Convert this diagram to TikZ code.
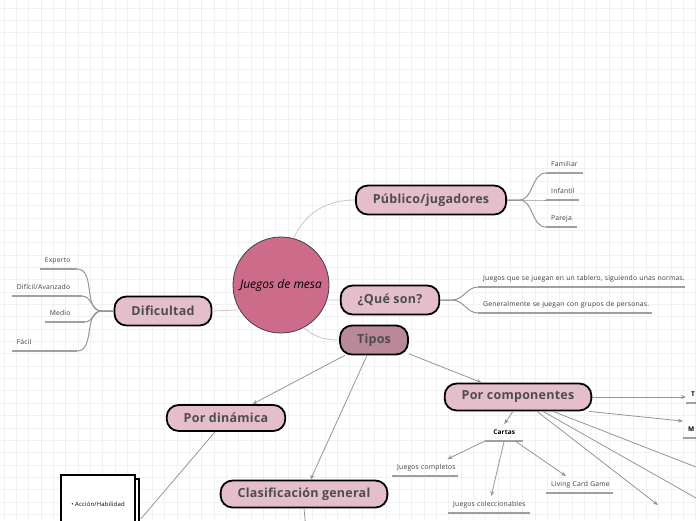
\documentclass[tikz,border=0pt]{standalone}
\usepackage{fontspec}
\setsansfont{Open Sans}
\newfontfamily\pillfont[LetterSpace=2]{Open Sans}
\newfontfamily\leaffont[LetterSpace=2.5]{Open Sans}
\usetikzlibrary{arrows.meta, positioning, shadows}
\definecolor{mapgrid}{RGB}{241,241,241}
\definecolor{rootpink}{RGB}{204,108,138}
\definecolor{topicpink}{RGB}{229,190,203}
\definecolor{tipomauve}{RGB}{187,136,152}
\definecolor{pilltext}{RGB}{77,77,77}
\definecolor{linkgray}{RGB}{200,200,200}
\definecolor{branchgray}{RGB}{150,150,150}

\begin{document}
\begin{tikzpicture}[x=1pt, y=1pt,
  rootc/.style={circle, draw=black!75, line width=0.8pt, fill=rootpink, minimum size=96pt, inner sep=0pt, font=\sffamily\itshape\fontsize{12}{14}\selectfont},
  topic/.style={draw=black, line width=1.8pt, fill=topicpink, rounded corners=12pt, minimum height=29pt, inner xsep=17pt, text=pilltext, font=\pillfont\bfseries\fontsize{12.5}{14}\selectfont},
  leaf/.style={text width=#1, inner xsep=5pt, inner ysep=5pt, text height=5pt, text depth=1.5pt, align=left, text=black!75, font=\leaffont\fontsize{6.8}{8}\selectfont, execute at begin node={\hbox\bgroup}, execute at end node={\egroup}},
  leafbold/.style={leaf=#1, text=black, font=\leaffont\bfseries\fontsize{6.5}{8}\selectfont},
  notebox/.style={draw=black, line width=1.5pt, fill=white, minimum width=74pt, minimum height=58pt, font=\leaffont\fontsize{6}{7}\selectfont, copy shadow={shadow xshift=4pt, shadow yshift=-4pt, draw=black, fill=white, line width=1.5pt}},
  link/.style={draw=linkgray, line width=0.8pt},
  branch/.style={draw=branchgray, line width=1pt},
  uline/.style={draw=branchgray!90, line width=1.2pt},
  arrline/.style={draw=branchgray, line width=0.8pt},
  arr/.style={arrline, -{Stealth[length=5pt, width=4pt]}}
]
  \useasboundingbox (0,0) rectangle (696,-520);
  \clip (0,0) rectangle (696,-520);
  \fill[white] (0,0) rectangle (696,-520);
  \foreach \gx in {0,...,56} \draw[mapgrid, line width=0.8pt] (4+\gx*12.35,0) -- (4+\gx*12.35,-520);
  \foreach \gy in {0,...,42} \draw[mapgrid, line width=0.8pt] (0,-8-\gy*12.35) -- (696,-8-\gy*12.35);

  \node[rootc] (root) at (281,-285) {Juegos de mesa};
  \node[topic] (pub) at (431,-200) {Público/jugadores};
  \node[topic] (que) at (390,-300) {¿Qué son?};
  \node[topic, fill=tipomauve] (tipos) at (374,-340) {Tipos};
  \node[topic] (dif) at (163,-311) {Dificultad};
  \node[topic, minimum height=26pt] (dinam) at (226,-418) {Por dinámica};
  \node[topic, minimum height=27pt] (comp) at (518,-397) {Por componentes};
  \node[topic, minimum height=27pt] (clasif) at (304,-494) {Clasificación general};

  \node[leaf=27pt, anchor=south west] (fam) at (546,-173) {Familiar};
  \node[leaf=23pt, anchor=south west] (inf) at (546,-200) {Infantil};
  \node[leaf=21pt, anchor=south west] (par) at (546,-227) {Pareja};
  \node[leaf=197pt, anchor=south west] (def1) at (478,-287) {Juegos que se juegan en un tablero, siguiendo unas normas.};
  \node[leaf=164pt, anchor=south west] (def2) at (478,-313) {Generalmente se juegan con grupos de personas.};
  \node[leaf=27pt, anchor=south east] (exp) at (77,-269) {Experto};
  \node[leaf=60pt, anchor=south east] (avz) at (82,-296) {Difícil/Avanzado};
  \node[leaf=30pt, anchor=south east] (med) at (85,-322) {Medio};
  \node[leaf=55pt, anchor=south east] (fac) at (77,-351) {Fácil};

  \node[leafbold=28pt, align=center, anchor=south west] (cartas) at (485,-441) {Cartas};
  \node[leaf=56pt, anchor=south west] (jcomp) at (392,-476) {Juegos completos};
  \node[leaf=72pt, anchor=south west] (jcol) at (448,-513) {Juegos coleccionables};
  \node[leaf=57pt, anchor=south west] (lcg) at (546,-493) {Living Card Game};
  \node[leafbold=30pt, anchor=south west] (tnode) at (686,-403) {T};
  \node[leafbold=30pt, anchor=south west] (mnode) at (683,-438) {M};

  \node[notebox] (acc) at (98,-504) {• Acción/Habilidad};

  \coordinate (clbot) at (306,-530);
  \coordinate (edgea) at (696,-467);
  \coordinate (edgeb) at (696,-498);
  \coordinate (edgec) at (658,-505);

  \draw[link] (root.75) to[out=65,in=180] (pub.west);
  \draw[link] (root.-18) -- (que.west);
  \draw[link] (root.-62) to[out=-40,in=180] (tipos.west);
  \draw[link] (root.211) -- (dif.east);

  \foreach \leafname in {fam,inf,par}
    \draw[branch] (pub.east) -- ++(12,0) to[out=0,in=180] (\leafname.south west);
  \foreach \leafname in {def1,def2}
    \draw[branch] (que.east) -- ++(12,0) to[out=0,in=180] (\leafname.south west);
  \foreach \leafname in {exp,avz,med,fac}
    \draw[branch] (dif.west) -- ++(-12,0) to[out=180,in=0] (\leafname.south east);
  \foreach \leafname in {fam,inf,par,def1,def2,exp,avz,med,fac,cartas,jcomp,jcol,lcg,tnode,mnode}
    \draw[uline] (\leafname.south west) -- (\leafname.south east);

  \draw[arr] (tipos) -- (dinam);
  \draw[arr] (tipos) -- (clasif);
  \draw[arr] (tipos) -- (comp);
  \draw[arrline] ([xshift=-11pt]dinam.south) -- ([shift={(5pt,-15pt)}]acc.east);
  \draw[arrline] (clasif.south) -- (clbot);

  \draw[arr] (comp.east) -- (comp.east -| tnode.south west);
  \draw[arr] ([xshift=-3pt]comp.south east) -- (mnode.north west);
  \draw[arrline] ([xshift=35pt]comp.south) -- (edgea);
  \draw[arrline] ([xshift=25pt]comp.south) -- (edgeb);
  \draw[arr] ([xshift=19pt]comp.south) -- (edgec);
  \draw[arr] ([xshift=-5pt]comp.south) -- (cartas.north);
  \draw[arr] (cartas.south west) -- ([xshift=-11pt]jcomp.north east);
  \draw[arr] (cartas.south) -- ([xshift=2pt]jcol.north);
  \draw[arr] ([xshift=11pt]cartas.south) -- ([xshift=20pt]lcg.north west);
\end{tikzpicture}
\end{document}
